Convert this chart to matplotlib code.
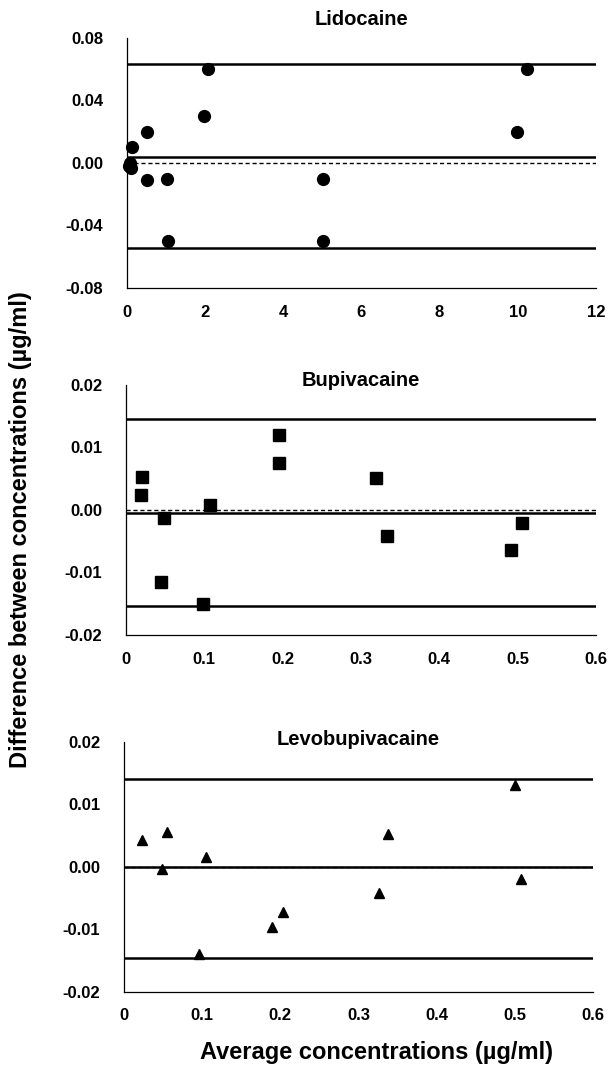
import matplotlib
matplotlib.use("Agg")
import matplotlib.pyplot as plt

plt.rcParams['font.family'] = ['Liberation Sans', 'DejaVu Sans']
plt.rcParams['font.weight'] = 'bold'

# Lidocaine
lido_x = [2.08, 10.23, 1.98, 0.52, 9.97, 0.12, 0.05, 0.10, 0.08, 0.52, 1.02, 5.01, 1.06, 5.01]
lido_y = [0.060, 0.060, 0.030, 0.020, 0.020, 0.010, -0.002, -0.003, 0.000, -0.011, -0.010, -0.010, -0.050, -0.050]
lido_lines = [0.0636, 0.0036, -0.0546]

# Bupivacaine
bupi_x = [0.021, 0.020, 0.049, 0.045, 0.099, 0.108, 0.196, 0.195, 0.319, 0.333, 0.491, 0.505]
bupi_y = [0.0053, 0.0024, -0.0013, -0.0115, -0.0150, 0.0008, 0.0120, 0.0075, 0.0051, -0.0041, -0.0064, -0.0021]
bupi_lines = [0.0146, -0.0005, -0.0153]

# Levobupivacaine
levo_x = [0.023, 0.055, 0.049, 0.105, 0.096, 0.190, 0.203, 0.326, 0.338, 0.500, 0.508]
levo_y = [0.0042, 0.0056, -0.0003, 0.0016, -0.0139, -0.0097, -0.0072, -0.0042, 0.0052, 0.0131, -0.0019]
levo_lines = [0.0140, 0.0, -0.0146]

conc_ticks = [0, 0.1, 0.2, 0.3, 0.4, 0.5, 0.6]
conc_labels = ['0', '0.1', '0.2', '0.3', '0.4', '0.5', '0.6']
small_ticks = [-0.02, -0.01, 0.00, 0.01, 0.02]
small_labels = ['-0.02', '-0.01', '0.00', '0.01', '0.02']

panels = [
    ("Lidocaine", lido_x, lido_y, lido_lines, 'o', 8.5,
     [0, 12], [0, 2, 4, 6, 8, 10, 12], ['0', '2', '4', '6', '8', '10', '12'],
     [-0.08, 0.08], [-0.08, -0.04, 0.00, 0.04, 0.08], ['-0.08', '-0.04', '0.00', '0.04', '0.08'],
     [0.208, 0.7336, 0.769, 0.2313], 1.072),
    ("Bupivacaine", bupi_x, bupi_y, bupi_lines, 's', 8.5,
     [0, 0.6], conc_ticks, conc_labels,
     [-0.02, 0.02], small_ticks, small_labels,
     [0.206, 0.4126, 0.771, 0.2313], 1.016),
    ("Levobupivacaine", levo_x, levo_y, levo_lines, '^', 7.5,
     [0, 0.6], conc_ticks, conc_labels,
     [-0.02, 0.02], small_ticks, small_labels,
     [0.203, 0.0826, 0.769, 0.2313], 1.007),
]

fig = plt.figure(figsize=(6.1, 10.81), dpi=100)

for (title, xs, ys, hl, mk, ms, xlim, xt, xtl, ylim, yt, ytl, pos, ty) in panels:
    ax = fig.add_axes(pos)
    ax.axhline(0, color='black', lw=1.0, ls=(0, (3, 2)), zorder=1)
    for v in hl:
        ax.axhline(v, color='black', lw=1.8, zorder=2)
    ax.plot(xs, ys, ls='none', marker=mk, ms=ms, color='black', zorder=3, clip_on=False)
    ax.set_xlim(xlim)
    ax.set_ylim(ylim)
    ax.set_xticks(xt)
    ax.set_xticklabels(xtl)
    ax.set_yticks(yt)
    ax.set_yticklabels(ytl)
    ax.tick_params(length=0, labelsize=12)
    ax.tick_params(axis='x', pad=12)
    ax.tick_params(axis='y', pad=17)
    for s in ['top', 'right']:
        ax.spines[s].set_visible(False)
    for s in ['left', 'bottom']:
        ax.spines[s].set_linewidth(0.9)
    ax.text(0.5, ty, title, transform=ax.transAxes, ha='center', va='center',
            fontsize=14.5, fontweight='bold')

fig.text(0.033, 0.51, "Difference between concentrations (µg/ml)", rotation=90,
         ha='center', va='center', fontsize=17, fontweight='bold')
fig.text(0.618, 0.026, "Average concentrations (µg/ml)", ha='center', va='center',
         fontsize=17, fontweight='bold')

fig.savefig("out.png", dpi=100)
